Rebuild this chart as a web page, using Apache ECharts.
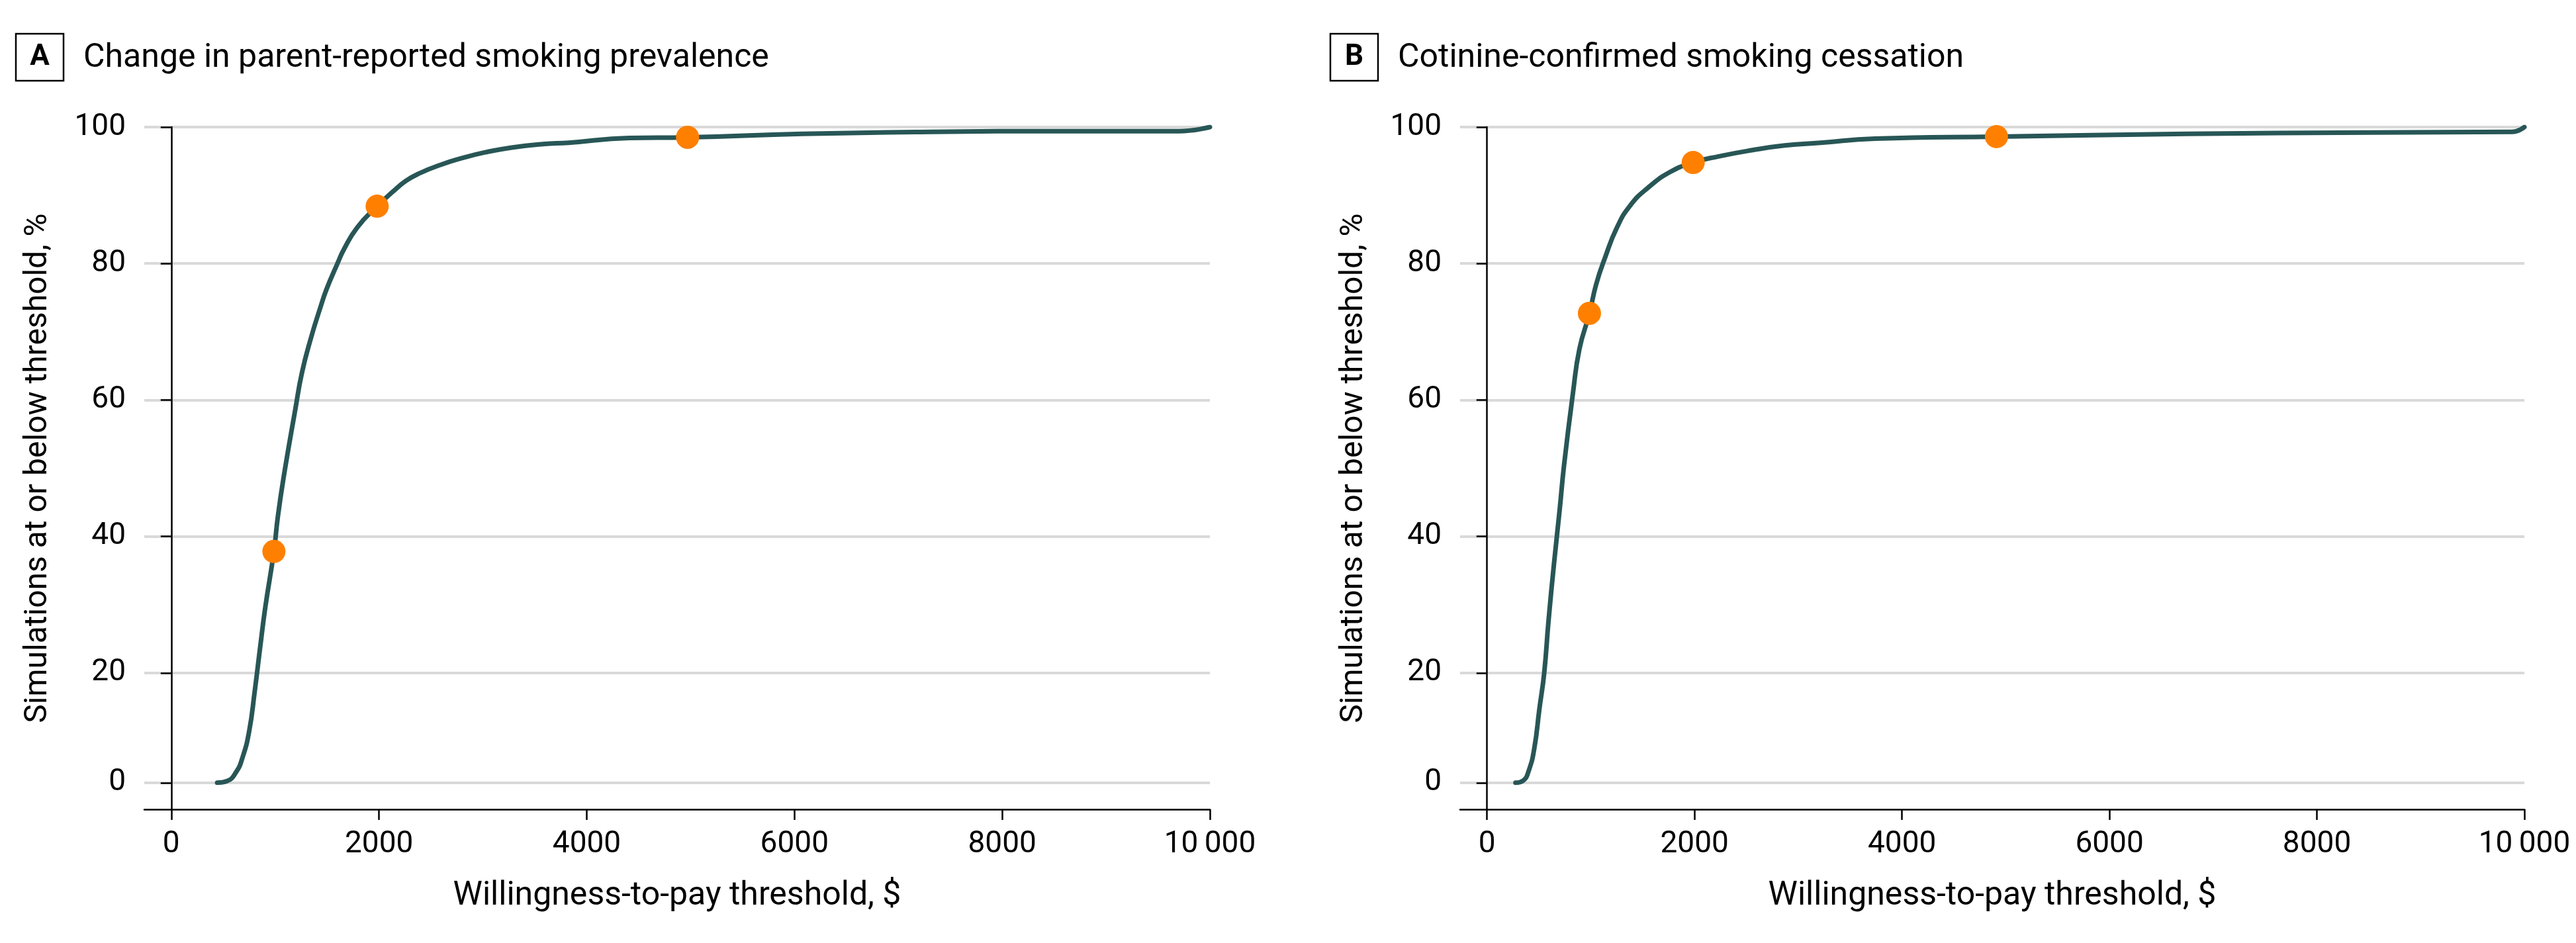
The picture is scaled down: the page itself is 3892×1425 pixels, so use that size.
<!DOCTYPE html>
<html>
<head>
<meta charset="utf-8" />
<title>Cost-effectiveness acceptability curves</title>
<script src="https://cdn.jsdelivr.net/npm/echarts@6.0.0/dist/echarts.min.js"></script>
<style>
  html, body { margin: 0; padding: 0; background: #fff; }
  #chart { width: 3892px; height: 1425px; }
</style>
</head>
<body>
<div id="chart"></div>
<script>
// panel titles
var panelLetters = ['A', 'B'];
var panelTitles = ['Change in parent-reported smoking prevalence', 'Cotinine-confirmed smoking cessation'];

// axis ticks
var xTicks = [0, 2000, 4000, 6000, 8000, 10000];
var yTicks = [0, 20, 40, 60, 80, 100];

// curve A: [willingness-to-pay $, % of simulations]
var curveA = [
  [442, 0], [537, 0.3], [623, 1.9], [686, 4.6], [750, 9.4], [803, 16.6],
  [856, 23.8], [905, 29.6], [988, 37.8], [1026, 42.9], [1082, 48.7],
  [1196, 58.8], [1258, 64.0], [1345, 69.1], [1430, 73.3],
  [1494, 76.2], [1600, 80.0], [1663, 82.1], [1791, 85.3], [1982, 88.4],
  [2131, 90.5], [2258, 92.1], [2386, 93.2], [2599, 94.5], [2811, 95.5],
  [3023, 96.3], [3278, 97.0], [3576, 97.5], [3824, 97.7], [4409, 98.4],
  [4971, 98.5], [6077, 99.0], [7327, 99.3], [8577, 99.4], [9703, 99.4],
  [10000, 100]
];
var markersA = [[988, 37.8], [1982, 88.4], [4971, 98.5]];

// curve B
var curveB = [
  [274, 0], [349, 0.4], [402, 2.2], [455, 6.2], [505, 13.5], [551, 20.0],
  [593, 27.7], [646, 36.1], [700, 43.9], [742, 50.4],
  [828, 61.0], [891, 67.5], [987, 72.7], [1051, 76.9], [1136, 80.8],
  [1253, 85.3], [1380, 88.5], [1551, 91.1], [1763, 93.4], [1987, 94.8],
  [2232, 95.7], [2551, 96.6], [2870, 97.3], [3212, 97.7], [3740, 98.3],
  [4911, 98.6], [6745, 99.0], [8513, 99.2], [9883, 99.3], [10000, 100]
];
var markersB = [[987, 72.7], [1987, 94.8], [4911, 98.6]];

// the original figure squeezes the 0-20 band: the "0" line sits a bit above the x axis
var ZERO_POS = 3.9;
function toAxis(p) {
  return p >= 20 ? p : ZERO_POS + p * (20 - ZERO_POS) / 20;
}
function fromAxis(v) {
  return v >= 20 ? v : (v - ZERO_POS) * 20 / (20 - ZERO_POS);
}
function mapPts(arr) {
  return arr.map(function (d) { return [d[0], toAxis(d[1])]; });
}

var lineColor = '#285656';
var dotColor = '#ff8000';
var font = 'Roboto';

function xAxisOpt(idx) {
  return {
    type: 'value', gridIndex: idx, min: -260, max: 10000,
    name: 'Willingness-to-pay threshold, $',
    nameLocation: 'middle', nameGap: 106,
    nameTextStyle: { fontSize: 50, color: '#000', fontFamily: font },
    axisLine: { show: true, lineStyle: { color: '#000', width: 2.5 } },
    axisTick: { show: true, length: 16, customValues: xTicks, lineStyle: { color: '#000', width: 2.5 } },
    axisLabel: {
      customValues: xTicks, margin: 30, fontSize: 46, color: '#000', fontFamily: font,
      formatter: function (v) { return v >= 10000 ? '10\u2009000' : String(v); }
    },
    splitLine: { show: false }
  };
}

function yAxisOpt(idx) {
  var tickPos = yTicks.map(toAxis);
  return {
    type: 'value', gridIndex: idx, min: 0, max: 100,
    name: 'Simulations at or below threshold, %',
    nameLocation: 'middle', nameGap: 136,
    nameTextStyle: { fontSize: 48, color: '#000', fontFamily: font },
    axisLine: { show: true, lineStyle: { color: '#000', width: 2.5 } },
    axisTick: { show: true, length: 16, customValues: tickPos, lineStyle: { color: '#000', width: 2.5 } },
    axisLabel: {
      customValues: tickPos, margin: 28, fontSize: 46, color: '#000', fontFamily: font,
      formatter: function (v) { return String(Math.round(fromAxis(v))); }
    },
    splitLine: { show: true, lineStyle: { color: '#d9d9d9', width: 4 } }
  };
}

function panelGraphics(letter, title, x0) {
  return [
    { type: 'rect', shape: { x: x0, y: 51, width: 72, height: 71 },
      style: { fill: '#fff', stroke: '#000', lineWidth: 2.5 } },
    { type: 'text', x: x0 + 36, y: 87,
      style: { text: letter, fontSize: 44, fontWeight: 'bold', fontFamily: font, fill: '#000', align: 'center', verticalAlign: 'middle' } },
    { type: 'text', x: x0 + 102, y: 88,
      style: { text: title, fontSize: 50, fontFamily: font, fill: '#000', align: 'left', verticalAlign: 'middle' } }
  ];
}

var chart = echarts.init(document.getElementById('chart'), null, { renderer: 'canvas' });

var option = {
  backgroundColor: '#fff',
  animation: false,
  textStyle: { fontFamily: font },
  grid: [
    { left: 218, right: 2064, top: 192, bottom: 202 },
    { left: 2206, right: 78, top: 192, bottom: 202 }
  ],
  xAxis: [xAxisOpt(0), xAxisOpt(1)],
  yAxis: [yAxisOpt(0), yAxisOpt(1)],
  graphic: panelGraphics(panelLetters[0], panelTitles[0], 24)
    .concat(panelGraphics(panelLetters[1], panelTitles[1], 2010)),
  series: [
    { type: 'line', xAxisIndex: 0, yAxisIndex: 0, data: mapPts(curveA),
      showSymbol: false, smooth: 0.5,
      lineStyle: { color: lineColor, width: 7, join: 'round', cap: 'round' }, z: 2 },
    { type: 'scatter', xAxisIndex: 0, yAxisIndex: 0, data: mapPts(markersA),
      symbol: 'circle', symbolSize: 35, itemStyle: { color: dotColor, opacity: 1 }, z: 3 },
    { type: 'line', xAxisIndex: 1, yAxisIndex: 1, data: mapPts(curveB),
      showSymbol: false, smooth: 0.5,
      lineStyle: { color: lineColor, width: 7, join: 'round', cap: 'round' }, z: 2 },
    { type: 'scatter', xAxisIndex: 1, yAxisIndex: 1, data: mapPts(markersB),
      symbol: 'circle', symbolSize: 35, itemStyle: { color: dotColor, opacity: 1 }, z: 3 }
  ]
};

chart.setOption(option);
</script>
</body>
</html>
